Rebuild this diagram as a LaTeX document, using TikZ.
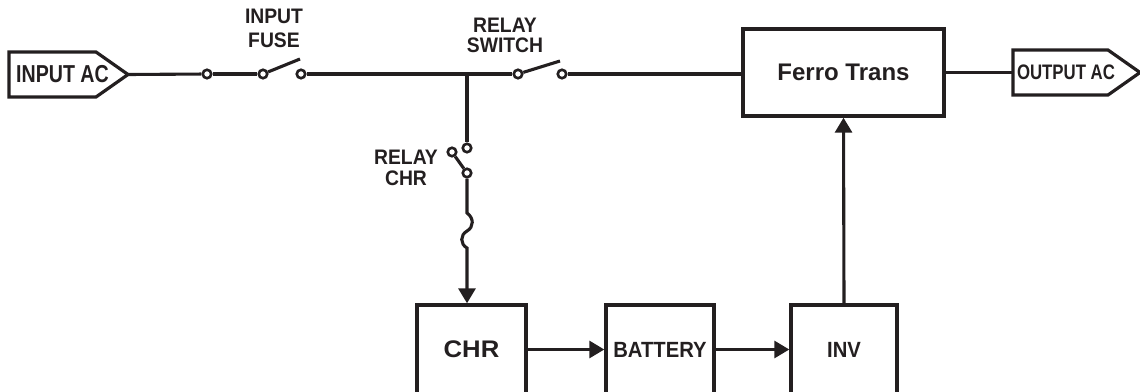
\documentclass[tikz,border=0pt]{standalone}
\usepackage{fontspec}
\setmainfont{Liberation Sans}
\newfontfamily\narrowsf[FakeStretch=0.92]{Liberation Sans}
\newfontfamily\flagsf[FakeStretch=0.8]{Liberation Sans}
\newfontfamily\widesf[FakeStretch=1.07]{Liberation Sans}
\usetikzlibrary{arrows.meta}
\definecolor{wireblack}{RGB}{35,31,32}

\begin{document}
\begin{tikzpicture}[x=1pt,y=-1pt,
    wire/.style={line width=3.1pt,draw=wireblack},
    feed/.style={wire,-{Triangle[length=15pt,width=17pt]}},
    block/.style={draw=wireblack,line width=3.4pt,text=wireblack,font=\bfseries\fontsize{24}{27}\selectfont},
    flagline/.style={draw=wireblack,line width=3.2pt,line join=miter},
    flagtext/.style={text=wireblack,inner sep=0pt},
    term/.style={circle,draw=wireblack,line width=2.6pt,fill=white,minimum size=8.5pt,inner sep=0pt},
    tag/.style={align=center,text=wireblack,font=\narrowsf\bfseries\fontsize{21}{24}\selectfont}]
  \useasboundingbox (0,0) rectangle (1140,391);
  \clip (0,0) rectangle (1140,391);

  % in / out flags
  \draw[flagline] (9,52) -- (96,52) -- (128,74.5) -- (96,97) -- (9,97) -- cycle;
  \coordinate (inactip) at (128,74.5);
  \node[flagtext,font=\flagsf\bfseries\fontsize{24.5}{27}\selectfont] (inac) at (62.5,74.5) {INPUT AC};
  \draw[flagline] (1013,50) -- (1108,50) -- (1140,72.5) -- (1108,95) -- (1013,95) -- cycle;
  \coordinate (outacin) at (1013,72.5);
  \node[flagtext,font=\flagsf\bfseries\fontsize{21}{24}\selectfont] (outac) at (1066,72.5) {OUTPUT AC};

  % blocks
  \node[block,minimum width=201pt,minimum height=87pt] (ferro) at (843.5,72.5) {Ferro Trans};
  \node[block,minimum width=109pt,minimum height=89pt,font=\widesf\bfseries\fontsize{24}{27}\selectfont] (chr) at (471.5,349.5) {CHR};
  \node[block,minimum width=108pt,minimum height=89pt,font=\narrowsf\bfseries\fontsize{22}{26}\selectfont] (batt) at (660,349.5) {BATTERY};
  \node[block,minimum width=106pt,minimum height=89pt,font=\narrowsf\bfseries\fontsize{22}{26}\selectfont] (inv) at (844,349.5) {INV};

  % switch contacts
  \node[term] (fa) at (207,74) {};
  \node[term] (fb) at (263,74) {};
  \node[term] (fc) at (301,74) {};
  \node[term] (ra) at (518,74) {};
  \node[term] (rb) at (562,74) {};
  \node[term] (ca) at (467,148) {};
  \node[term] (cb) at (452,152) {};
  \node[term] (cc) at (467,173) {};
  \coordinate (j) at (467,74);
  \coordinate (fuseblade) at (300,59);
  \coordinate (relayblade) at (560,61);
  \coordinate (w1) at (467,213);
  \coordinate (w2) at (467,248);

  % labels
  \node[tag] (fuselbl) at (274,28) {INPUT\\FUSE};
  \node[tag,font=\narrowsf\bfseries\fontsize{21}{20}\selectfont] (relaylbl) at (505,35) {RELAY\\SWITCH};
  \node[tag,font=\narrowsf\bfseries\fontsize{21}{21}\selectfont] (chrlbl) at (406,168) {RELAY\\CHR};

  % main line
  \draw[wire] (inactip) -- (fa);
  \draw[wire] (fa) -- (fb);
  \draw[wire] (fb) -- (fuseblade);
  \draw[wire] (fc) -- (ra);
  \draw[wire] (ra) -- (relayblade);
  \draw[wire] (rb) -- (rb -| ferro.west);
  \draw[wire] (ferro.east) -- (outacin);

  % charger branch
  \draw[wire] (j) -- (ca);
  \draw[wire] (cc) -- (cb);
  \draw[feed] (cc) -- (w1) .. controls (474,218) and (474,227) .. (467,231)
    .. controls (460,235) and (460,244) .. (w2) -- (w2 |- chr.north);
  \draw[feed] (chr.east) -- (batt.west);
  \draw[feed] (batt.east) -- (inv.west);
  \draw[feed] (inv.north) -- (ferro.south);
\end{tikzpicture}
\end{document}
